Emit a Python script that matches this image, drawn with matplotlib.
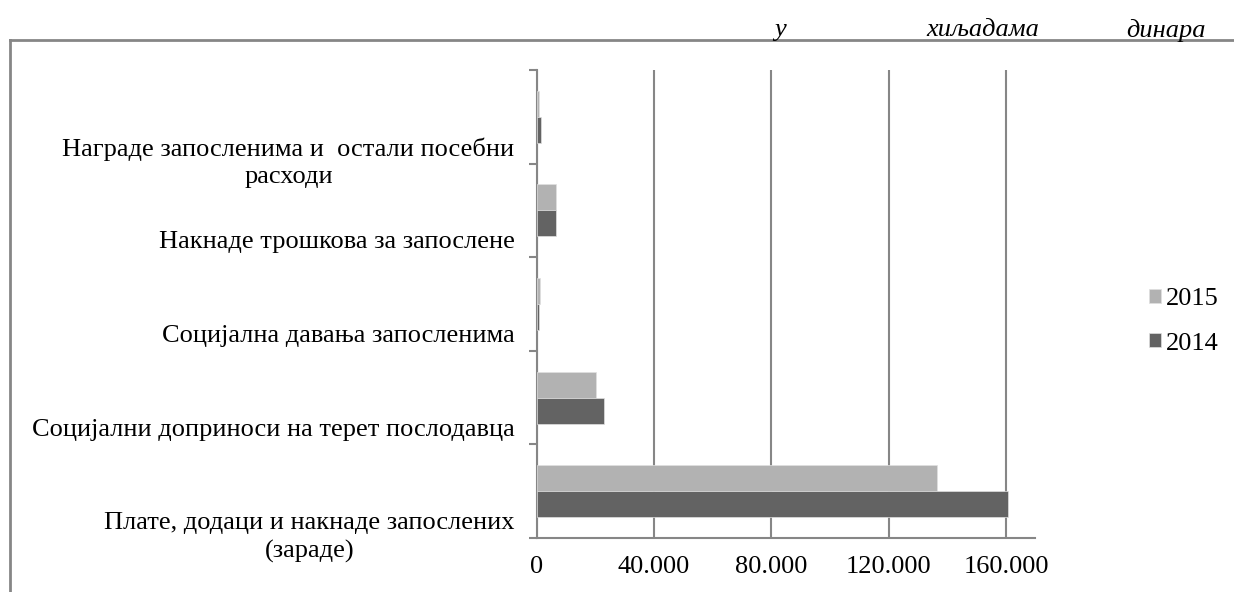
import numpy as np
import matplotlib.pyplot as plt
from matplotlib.lines import Line2D
from matplotlib.transforms import ScaledTranslation

plt.rcParams['font.family'] = ['Liberation Serif', 'DejaVu Serif']

# categories from bottom to top
categories = [
    'Плате, додаци и накнаде запослених\n(зараде)',
    'Социјални доприноси на терет послодавца',
    'Социјална давања запосленима',
    'Накнаде трошкова за запослене',
    'Награде запосленима и  остали посебни\nрасходи',
]
values_2015 = [136400, 20200, 1000, 6400, 600]
values_2014 = [160700, 23000, 600, 6400, 1300]
series_names = ['2015', '2014']
xticks = [0, 40000, 80000, 120000, 160000]
xtick_labels = ['0', '40.000', '80.000', '120.000', '160.000']

c15 = '#b2b2b2'
c14 = '#636363'
gray = '#868686'
fs = 19

fig = plt.figure(figsize=(12.34, 5.92), dpi=100)
ax = fig.add_axes([0.435, 0.0912, 0.404, 0.7906])

y = np.arange(len(categories))
h = 0.278
ax.barh(y + h / 2, values_2015, height=h, color=c15, edgecolor='#e0e0e0', linewidth=0.5, label=series_names[0], zorder=3)
ax.barh(y - h / 2, values_2014, height=h, color=c14, edgecolor='#e0e0e0', linewidth=0.5, label=series_names[1], zorder=3)

ax.set_xlim(0, 170000)
ax.set_ylim(-0.5, len(categories) - 0.5)
ax.set_xticks(xticks)
ax.set_xticklabels(xtick_labels, fontsize=fs)
ax.tick_params(axis='x', length=0, pad=13)
ax.grid(axis='x', color=gray, linewidth=1.5, zorder=0)

ax.set_yticks(y)
ax.set_yticklabels(categories, fontsize=fs, ha='right', va='top', multialignment='center', linespacing=1.3)
ax.tick_params(axis='y', length=0, pad=16)
# labels sit a bit below the category centre, like the original
off = ScaledTranslation(0, -21 / 100, fig.dpi_scale_trans)
for lab in ax.get_yticklabels():
    lab.set_transform(lab.get_transform() + off)

# boundary tick marks
ax.set_yticks(np.arange(-0.5, len(categories), 1.0), minor=True)
ax.tick_params(axis='y', which='minor', length=6, width=1.5, color=gray)
ax.set_xticks([0], minor=True)
ax.tick_params(axis='x', which='minor', length=5, width=1.5, color=gray)

for s in ['top', 'right']:
    ax.spines[s].set_visible(False)
for s in ['left', 'bottom']:
    ax.spines[s].set_color(gray)
    ax.spines[s].set_linewidth(1.5)

fig.legend(loc='center left', bbox_to_anchor=(0.931, 0.457), frameon=False, fontsize=fs,
           handlelength=0.45, handleheight=0.45, handletextpad=0.2, labelspacing=0.85,
           borderaxespad=0, borderpad=0)

# outer chart frame (partly visible)
fig.add_artist(Line2D([0.0081, 1.0], [0.9324, 0.9324], color=gray, linewidth=2))
fig.add_artist(Line2D([0.0081, 0.0081], [0.0, 0.9324], color=gray, linewidth=2))

# unit note
ty = 1 - 30 / 592
fig.text(780 / 1234, ty, 'у', style='italic', fontsize=fs, ha='center', va='center')
fig.text(983 / 1234, ty, 'хиљадама', style='italic', fontsize=fs, ha='center', va='center')
fig.text(1166 / 1234, ty, 'динара', style='italic', fontsize=fs, ha='center', va='center')

fig.savefig('out.png', dpi=100)
